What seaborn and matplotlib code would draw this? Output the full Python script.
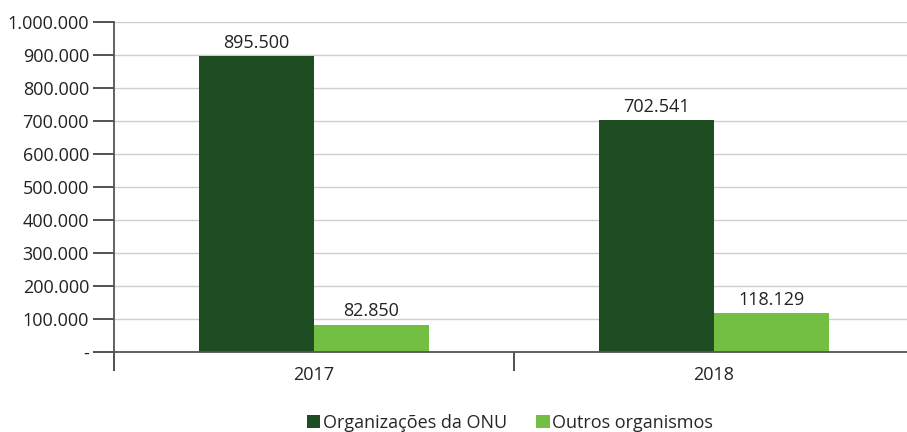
import matplotlib
matplotlib.use("Agg")
import matplotlib.pyplot as plt
import seaborn as sns
import pandas as pd
from matplotlib.ticker import FixedLocator
from matplotlib.patches import Patch

years = ["2017", "2018"]
series = ["Organizações da ONU", "Outros organismos"]
onu = [895500, 702541]
outros = [82850, 118129]
ytick_vals = [0, 100000, 200000, 300000, 400000, 500000, 600000, 700000, 800000, 900000, 1000000]
ytick_labels = ["-", "100.000", "200.000", "300.000", "400.000", "500.000",
                "600.000", "700.000", "800.000", "900.000", "1.000.000"]
value_labels = {"Organizações da ONU": ["895.500", "702.541"],
                "Outros organismos": ["82.850", "118.129"]}
colors = ["#1E4D22", "#72BF44"]

df = pd.DataFrame({
    "ano": years * 2,
    "serie": [series[0]] * 2 + [series[1]] * 2,
    "valor": onu + outros,
})

sns.set_theme(style="white")
plt.rcParams["font.family"] = ["Open Sans", "DejaVu Sans"]

fig = plt.figure(figsize=(9.07, 4.32), dpi=100)
ax = fig.add_axes([114 / 907, 80 / 432, (907 - 114) / 907, 330 / 432])

sns.barplot(data=df, x="ano", y="valor", hue="serie", palette=colors,
            width=0.575, ax=ax, legend=False, saturation=1, linewidth=0, edgecolor="none")

ax.set_xlim(-0.5, 1.4825)
ax.set_ylim(0, 1000000)
ax.set_yticks(ytick_vals)
ax.set_yticklabels(ytick_labels, fontsize=13, color="#222222")
ax.yaxis.grid(True, color="#cfcfcf", linewidth=1)
ax.set_axisbelow(True)
ax.tick_params(axis="y", length=15, width=1.2, color="#333333", pad=3, left=True)

ax.set_xticks([0, 1])
ax.set_xticklabels(years, fontsize=13, color="#222222")
ax.tick_params(axis="x", which="major", length=0, pad=10)
ax.xaxis.set_minor_locator(FixedLocator([-0.5, 0.5]))
ax.tick_params(axis="x", which="minor", length=14, width=1.2, color="#333333", bottom=True)

for s in ["top", "right"]:
    ax.spines[s].set_visible(False)
for s in ["left", "bottom"]:
    ax.spines[s].set_color("#555555")
    ax.spines[s].set_linewidth(1.3)

ax.set_xlabel("")
ax.set_ylabel("")

for cont, name in zip(ax.containers, series):
    ax.bar_label(cont, labels=value_labels[name], padding=3, fontsize=13, color="#222222")

handles = [Patch(facecolor=c, edgecolor="none") for c in colors]
fig.legend(handles, series, loc="center", bbox_to_anchor=(510 / 907, 1 - 423 / 432),
           ncol=2, frameon=False, fontsize=13, handlelength=0.75, handleheight=0.75,
           handletextpad=0.15, columnspacing=1.6)

fig.savefig("out.png", dpi=100)
